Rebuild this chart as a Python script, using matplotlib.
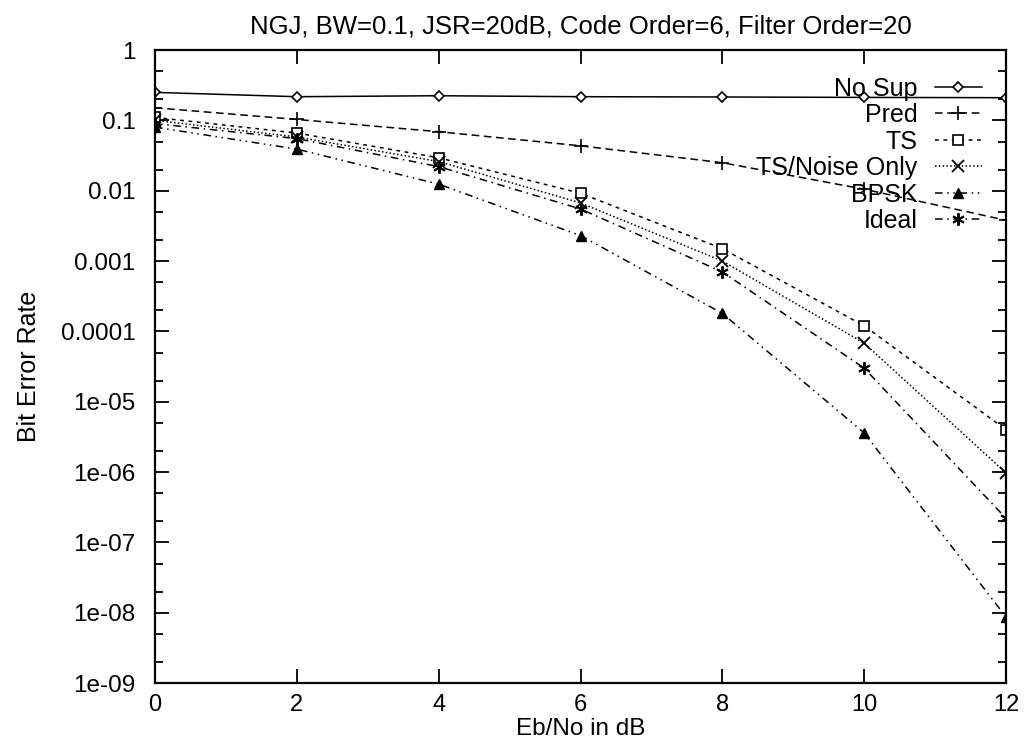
import numpy as np
import matplotlib
matplotlib.use("Agg")
import matplotlib.pyplot as plt
from matplotlib.ticker import LogLocator, NullFormatter, FixedLocator, FixedFormatter

plt.rcParams['font.family'] = ['Liberation Sans', 'DejaVu Sans']

ebno = [0, 2, 4, 6, 8, 10, 12]
no_sup = [0.25, 0.217, 0.224, 0.217, 0.215, 0.212, 0.21]
pred = [0.151, 0.103, 0.069, 0.0435, 0.025, 0.0105, 0.0038]
ts = [0.11, 0.066, 0.0294, 0.0092, 0.0015, 0.00012, 4.0e-6]
ts_noise = [0.1, 0.058, 0.026, 0.0067, 0.001, 6.8e-5, 9.7e-7]
bpsk = [0.08, 0.039, 0.0124, 0.0023, 0.00018, 3.6e-6, 8.7e-9]
ideal = [0.09, 0.055, 0.022, 0.0055, 0.0007, 3.0e-5, 2.2e-7]

ytick_vals = [1, 0.1, 0.01, 0.001, 0.0001, 1e-5, 1e-6, 1e-7, 1e-8, 1e-9]
ytick_labels = ["1", "0.1", "0.01", "0.001", "0.0001", "1e-05", "1e-06",
                "1e-07", "1e-08", "1e-09"]

fig = plt.figure(figsize=(10.24, 7.49), dpi=100)
ax = fig.add_axes([0.1514, 0.0881, 0.831, 0.8451])

lw = 1.1
ax.plot(ebno, no_sup, color='black', lw=lw, ls='-', marker='D', ms=5,
        mfc='white', mew=1.2, label='No Sup')
ax.plot(ebno, pred, color='black', lw=lw, ls=(0, (5, 3)), marker='+', ms=10,
        mew=1.2, label='Pred')
ax.plot(ebno, ts, color='black', lw=lw, ls=(0, (2.5, 3)), marker='s', ms=7,
        mfc='white', mew=1.2, label='TS')
ax.plot(ebno, ts_noise, color='black', lw=lw, ls=(0, (1, 1.5)), marker='x', ms=9,
        mew=1.3, label='TS/Noise Only')
ax.plot(ebno, bpsk, color='black', lw=lw, ls=(0, (5, 3, 1, 3, 1, 3)), marker='^', ms=7,
        mew=1.0, label='BPSK')
ax.plot(ebno, ideal, color='black', lw=lw, ls=(0, (5, 3, 1, 3)), marker=(6, 2, 0), ms=9,
        mew=1.4, label='Ideal')

ax.set_yscale('log')
ax.set_xlim(0, 12)
ax.set_ylim(1e-9, 1)
ax.set_xticks(ebno)
ax.yaxis.set_major_locator(FixedLocator(ytick_vals))
ax.yaxis.set_major_formatter(FixedFormatter(ytick_labels))
ax.yaxis.set_minor_locator(LogLocator(base=10, subs=(2, 5), numticks=20))
ax.yaxis.set_minor_formatter(NullFormatter())

ax.tick_params(which='both', direction='in', top=True, right=True,
               labelsize=17.5, width=1.3)
ax.tick_params(which='major', length=10)
ax.tick_params(axis='y', which='major', pad=14)
ax.tick_params(axis='x', which='major', pad=8, labelsize=17)
ax.tick_params(which='minor', length=6)
for s in ax.spines.values():
    s.set_linewidth(1.6)

ax.set_title("NGJ, BW=0.1, JSR=20dB, Code Order=6, Filter Order=20",
             fontsize=18.5, pad=12)
ax.set_xlabel("Eb/No in dB", fontsize=17.5, labelpad=1)
ax.set_ylabel("Bit Error Rate", fontsize=18, labelpad=14)

leg = ax.legend(loc='upper right', bbox_to_anchor=(0.972, 0.958), frameon=False,
                markerfirst=False, fontsize=18, handlelength=1.9,
                handletextpad=0.7, labelspacing=0.1, borderaxespad=0.0,
                borderpad=0.0)
for t in leg.get_texts():
    t.set_ha('right')

fig.savefig("out.png", dpi=100)
